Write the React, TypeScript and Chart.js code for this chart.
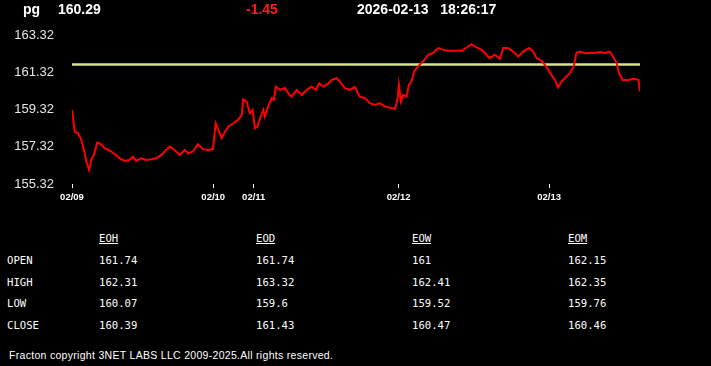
import React, { useEffect, useRef } from "react";
import { Chart, registerables } from "chart.js";

Chart.register(...registerables);

// trading-time position (bar index) and price
const times = [
  0, 0.9, 2.0, 3.1, 4.2, 4.8, 5.7, 6.4, 7.3, 8.4, 9.2, 10.9, 12.6, 14.2, 15.9, 17.6, 19.2, 20.3, 21.4, 23.1,
  24.8, 26.4, 28.1, 29.8, 31.4, 32.6, 34.2, 35.9, 37.6, 38.7, 40.3, 42.0, 43.7, 45.3, 47.0, 47.9, 48.8, 49.9,
  51.0, 52.1, 53.8, 55.4, 56.6, 57.1, 58.2, 59.3, 60.2, 61.0, 61.9, 62.7, 63.8, 64.3, 65.4, 66.6, 67.3, 68.0,
  69.3, 71.0, 72.1, 73.2, 74.9, 76.6, 78.2, 79.9, 81.3, 82.4, 83.8, 85.4, 86.6, 88.2, 89.3, 91.0, 92.7, 94.3,
  96.0, 97.7, 99.3, 101.0, 102.7, 104.3, 106.0, 107.7, 108.6, 109.0, 109.7, 110.4, 111.6, 112.3, 113.2, 114.1,
  115.4, 117.1, 118.8, 120.4, 122.1, 123.8, 125.4, 127.7, 129.9, 131.6, 133.2, 134.9, 136.6, 138.2, 139.3,
  141.0, 142.7, 143.8, 145.4, 147.1, 148.8, 150.4, 152.4, 153.8, 154.9, 156.6, 157.7, 158.8, 159.9, 161.0,
  162.1, 163.2, 164.3, 166.0, 167.3, 168.2, 169.3, 171.0, 172.7, 174.3, 176.0, 177.7, 179.3, 180.4, 181.6,
  182.4, 183.6, 185.6, 187.2, 188.9, 189.4,
];
const prices = [
  159.3, 158.13, 158.06, 157.69, 156.99, 156.5, 156.07, 156.61, 156.88, 157.54, 157.51, 157.24, 157.11, 156.93,
  156.7, 156.56, 156.61, 156.79, 156.56, 156.7, 156.61, 156.65, 156.7, 156.88, 157.15, 157.33, 157.15, 156.88,
  157.15, 156.97, 157.06, 157.45, 157.19, 157.15, 157.19, 158.58, 158.22, 157.78, 158.13, 158.4, 158.58, 158.76,
  159.03, 159.87, 159.74, 159.12, 159.3, 158.31, 158.4, 158.85, 159.3, 158.94, 159.48, 159.93, 159.84, 160.55,
  160.37, 160.47, 160.2, 160.01, 160.37, 160.1, 160.37, 160.55, 160.37, 160.73, 160.55, 160.7, 160.91, 161.0,
  160.82, 160.47, 160.37, 160.53, 160.0, 159.93, 159.66, 159.57, 159.66, 159.48, 159.42, 159.35, 159.93, 160.64,
  159.74, 160.1, 160.01, 160.64, 160.82, 161.36, 161.63, 161.9, 162.26, 162.35, 162.62, 162.52, 162.47, 162.47,
  162.47, 162.65, 162.83, 162.65, 162.52, 162.26, 162.08, 162.26, 162.04, 162.62, 162.62, 162.43, 162.16, 162.43,
  162.62, 162.43, 162.08, 161.93, 161.72, 161.45, 161.18, 160.91, 160.5, 160.82, 161.0, 161.27, 161.63, 162.35,
  162.43, 162.35, 162.35, 162.35, 162.4, 162.35, 162.43, 162.16, 161.81, 161.27, 160.91, 160.91, 160.97, 160.91,
  160.29,
];
const openLevel = 161.74;
const tickTimes = [0, 47.1, 60.6, 108.9, 159.1];
const tickLabels = ["02/09", "02/10", "02/11", "02/12", "02/13"];
const yTicks = [155.32, 157.32, 159.32, 161.32, 163.32];
const xMax = 189.4;

const symbol = "pg";
const lastPrice = "160.29";
const change = "-1.45";
const stamp = "2026-02-13   18:26:17";

const rowNames = ["OPEN", "HIGH", "LOW", "CLOSE"];
const colNames = ["EOH", "EOD", "EOW", "EOM"];
const eoh = ["161.74", "162.31", "160.07", "160.39"];
const eod = ["161.74", "163.32", "159.6", "161.43"];
const eow = ["161", "162.41", "159.52", "160.47"];
const eom = ["162.15", "162.35", "159.76", "160.46"];
const tableCols = [eoh, eod, eow, eom];

const sans = "'Liberation Sans', Arial, sans-serif";
const mono = "'DejaVu Sans Mono', monospace";

export default function App() {
  const ref = useRef<HTMLCanvasElement | null>(null);

  useEffect(() => {
    document.body.style.margin = "0";
    document.body.style.background = "#000";
    const canvas = ref.current;
    if (!canvas) return;
    const chart = new Chart(canvas, {
      type: "line",
      data: {
        datasets: [
          {
            data: times.map((t, i) => ({ x: t, y: prices[i] })),
            borderColor: "#ff0000",
            borderWidth: 2,
            pointRadius: 0,
            tension: 0,
          },
          {
            data: [
              { x: 0, y: openLevel },
              { x: xMax, y: openLevel },
            ],
            borderColor: "#d6e485",
            borderWidth: 2.5,
            pointRadius: 0,
          },
        ],
      },
      options: {
        animation: false,
        responsive: false,
        maintainAspectRatio: false,
        events: [],
        layout: { padding: { left: 0, right: 71, top: 35, bottom: 0 } },
        plugins: { legend: { display: false }, tooltip: { enabled: false } },
        scales: {
          x: {
            type: "linear",
            min: 0,
            max: xMax,
            afterBuildTicks: (scale: any) => {
              scale.ticks = tickTimes.map((v) => ({ value: v }));
            },
            afterFit: (scale: any) => {
              scale.height = 26;
            },
            ticks: {
              autoSkip: false,
              maxRotation: 0,
              color: "#ffffff",
              padding: 4,
              font: { family: sans, size: 9.5, weight: "bold" },
              callback: (_v: any, i: number) => tickLabels[i],
            },
            grid: {
              display: true,
              drawOnChartArea: false,
              drawTicks: true,
              tickLength: 4,
              color: "#ffffff",
              lineWidth: 1,
            },
            border: { display: false },
          },
          y: {
            min: 155.32,
            max: 163.32,
            afterBuildTicks: (scale: any) => {
              scale.ticks = yTicks.map((v) => ({ value: v }));
            },
            afterFit: (scale: any) => {
              scale.width = 72;
            },
            ticks: {
              color: "#e6e6e6",
              padding: 10,
              font: { family: sans, size: 13 },
              callback: (v: any) => Number(v).toFixed(2),
            },
            grid: { display: false },
            border: { display: false },
          },
        },
      },
    });
    return () => chart.destroy();
  }, []);

  const hdr: React.CSSProperties = {
    position: "absolute",
    top: 2,
    fontFamily: sans,
    fontWeight: "bold",
    fontSize: 14,
    lineHeight: "14px",
    color: "#fff",
    whiteSpace: "pre",
  };
  const cell: React.CSSProperties = {
    position: "absolute",
    fontFamily: mono,
    fontSize: 10.6,
    lineHeight: "12px",
    color: "#fff",
    whiteSpace: "pre",
  };
  const colX = [99, 256, 412, 568];
  const rowY = [260, 281.5, 303, 324.5];

  return (
    <div style={{ position: "relative", width: 711, height: 366, background: "#000", overflow: "hidden" }}>
      <canvas ref={ref} width={711} height={210} style={{ position: "absolute", left: 0, top: 0, width: 711, height: 210 }} />
      <div style={{ ...hdr, left: 23 }}>{symbol}</div>
      <div style={{ ...hdr, left: 58 }}>{lastPrice}</div>
      <div style={{ ...hdr, left: 246, color: "#ff1a1a" }}>{change}</div>
      <div style={{ ...hdr, left: 357 }}>{stamp}</div>
      {colNames.map((c, j) => (
        <div key={c} style={{ ...cell, left: colX[j], top: 238 - 6, textDecoration: "underline" }}>
          {c}
        </div>
      ))}
      {rowNames.map((r, i) => (
        <React.Fragment key={r}>
          <div style={{ ...cell, left: 7, top: rowY[i] - 6 }}>{r}</div>
          {tableCols.map((col, j) => (
            <div key={j} style={{ ...cell, left: colX[j], top: rowY[i] - 6 }}>
              {col[i]}
            </div>
          ))}
        </React.Fragment>
      ))}
      <div
        style={{
          position: "absolute",
          left: 9,
          top: 349,
          fontFamily: sans,
          fontSize: 10.5,
          letterSpacing: "0.3px",
          lineHeight: "12px",
          color: "#fff",
          whiteSpace: "pre",
        }}
      >
        Fracton copyright 3NET LABS LLC 2009-2025.All rights reserved.
      </div>
    </div>
  );
}
